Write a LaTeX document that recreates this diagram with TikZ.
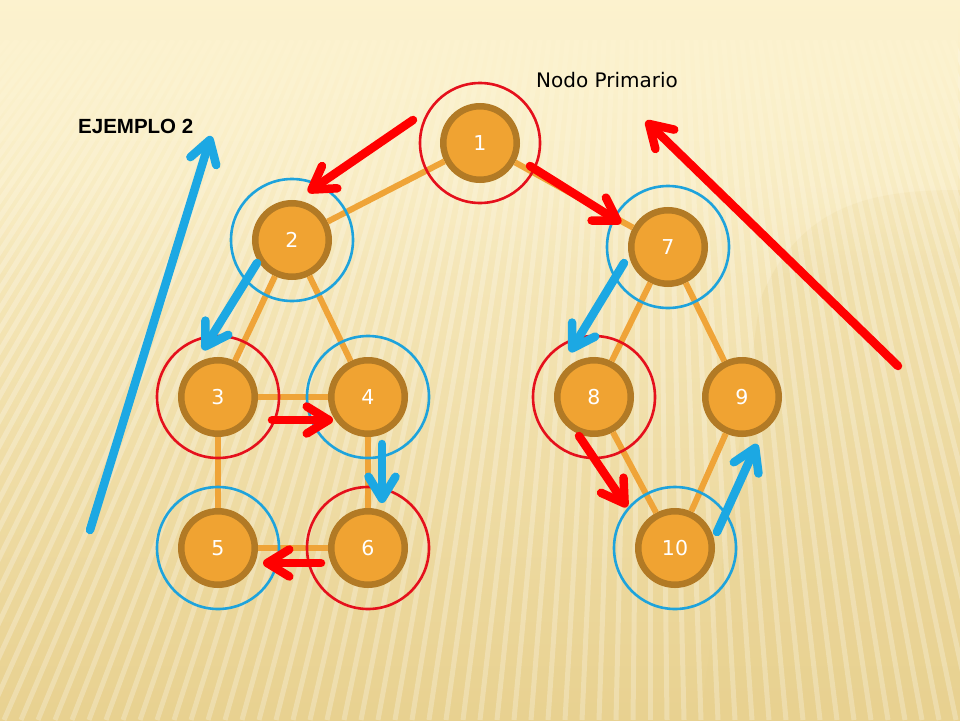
\documentclass[tikz,border=0pt]{standalone}
\usepackage{fontspec}
\setmainfont{DejaVu Sans}
\newfontfamily\ejfont{Liberation Sans}
\usetikzlibrary{arrows.meta,fadings}
\definecolor{bgtop}{HTML}{FCF2CE}
\definecolor{bgmid}{HTML}{F8E8B8}
\definecolor{bgbot}{HTML}{E8D190}
\definecolor{nodefill}{HTML}{F0A332}
\definecolor{nodeborder}{HTML}{B27A25}
\definecolor{edgecol}{HTML}{EFA438}
\definecolor{myred}{HTML}{FF0000}
\definecolor{ringred}{HTML}{E5101C}
\definecolor{myblue}{HTML}{1CA8E3}
\definecolor{ringblue}{HTML}{1EA3DC}
\tikzset{
  vert/.style={circle, fill=nodefill, draw=nodeborder, line width=6.5pt,
    minimum size=73.5pt, inner sep=0pt, text=white,
    font=\fontsize{20.5}{20.5}\selectfont},
  edge/.style={draw=edgecol, line width=6pt},
  ringr/.style={draw=ringred, line width=2.6pt},
  ringb/.style={draw=ringblue, line width=2.6pt},
  arr/.style={line width=8.5pt, line cap=round,
    -{Straight Barb[length=22pt, width=27pt, round]}},
  rarr/.style={arr, draw=myred},
  barr/.style={arr, draw=myblue},
  stripe/.style={white, opacity=0.25, line width=5pt}
}
\begin{document}
\begin{tikzpicture}[x=1pt,y=-1pt]
\useasboundingbox (0,0) rectangle (960,720);
% background
\fill[top color=bgtop, middle color=bgmid, bottom color=bgbot] (0,0) rectangle (960,720);
\fill[bgbot, opacity=0.25] (760,300) .. controls (800,200) and (880,190) .. (960,190) -- (960,720) -- (700,720) -- cycle;
\begin{scope}
  \clip (0,40) rectangle (960,720);
  \foreach \i in {-75,...,40}
    \draw[stripe] ({650+\i*9.17},40) -- ({650+\i*17},720);
\end{scope}
\fill[bgtop, path fading=south] (0,0) rectangle (960,280);

% texts
\node[font=\fontsize{20}{20}\selectfont, text=black, anchor=base west, inner sep=0pt] (title) at (536,87) {Nodo Primario};
\node[font=\ejfont\bfseries\fontsize{20.5}{20.5}\selectfont, text=black, anchor=base west, inner sep=0pt] (ejemplo) at (78,133) {EJEMPLO 2};

% nodes
\node[vert] (n1) at (480,143) {1};
\node[vert] (n2) at (292,240) {2};
\node[vert] (n7) at (668,247) {7};
\node[vert] (n3) at (218,397) {3};
\node[vert] (n4) at (368,397) {4};
\node[vert] (n8) at (594,397) {8};
\node[vert] (n9) at (742,397) {9};
\node[vert] (n5) at (218,548) {5};
\node[vert] (n6) at (368,548) {6};
\node[vert] (n10) at (675,548) {10};

% edges
\foreach \a/\b in {n1/n2, n1/n7, n2/n3, n2/n4, n3/n4, n3/n5, n5/n6, n4/n6, n7/n8, n7/n9, n8/n10, n9/n10}
  \draw[edge] (\a) -- (\b);

% rings
\draw[ringr] (n1) circle[radius=60];
\draw[ringb] (n2) circle[radius=61];
\draw[ringr] (n3) circle[radius=61];
\draw[ringb] (n4) circle[radius=61];
\draw[ringb] (n5) circle[radius=61];
\draw[ringr] (n6) circle[radius=61];
\draw[ringb] (n7) circle[radius=61];
\draw[ringr] (n8) circle[radius=61];
\draw[ringb] (n10) circle[radius=61];

% arrow end points
\coordinate (r1s) at (413,120); \coordinate (r1e) at (308,192);
\coordinate (r2s) at (530,166); \coordinate (r2e) at (621,223);
\coordinate (r3s) at (272,420); \coordinate (r3e) at (333,420);
\coordinate (r4s) at (321,563); \coordinate (r4e) at (263,563);
\coordinate (r5s) at (579,436); \coordinate (r5e) at (627,507);
\coordinate (r6s) at (898,366); \coordinate (r6e) at (646,121);
\coordinate (b1s) at (90,530);  \coordinate (b1e) at (211,136);
\coordinate (b2s) at (257,263); \coordinate (b2e) at (203,350);
\coordinate (b3s) at (382,444); \coordinate (b3e) at (382,503);
\coordinate (b4s) at (624,263); \coordinate (b4e) at (570,352);
\coordinate (b5s) at (717,532); \coordinate (b5e) at (757,444);

% arrows
\draw[rarr] (r1s) -- (r1e);
\draw[rarr] (r2s) -- (r2e);
\draw[rarr] (r3s) -- (r3e);
\draw[rarr] (r4s) -- (r4e);
\draw[rarr] (r5s) -- (r5e);
\draw[rarr] (r6s) -- (r6e);
\draw[barr] (b1s) -- (b1e);
\draw[barr] (b2s) -- (b2e);
\draw[barr] (b3s) -- (b3e);
\draw[barr] (b4s) -- (b4e);
\draw[barr] (b5s) -- (b5e);
\end{tikzpicture}
\end{document}
